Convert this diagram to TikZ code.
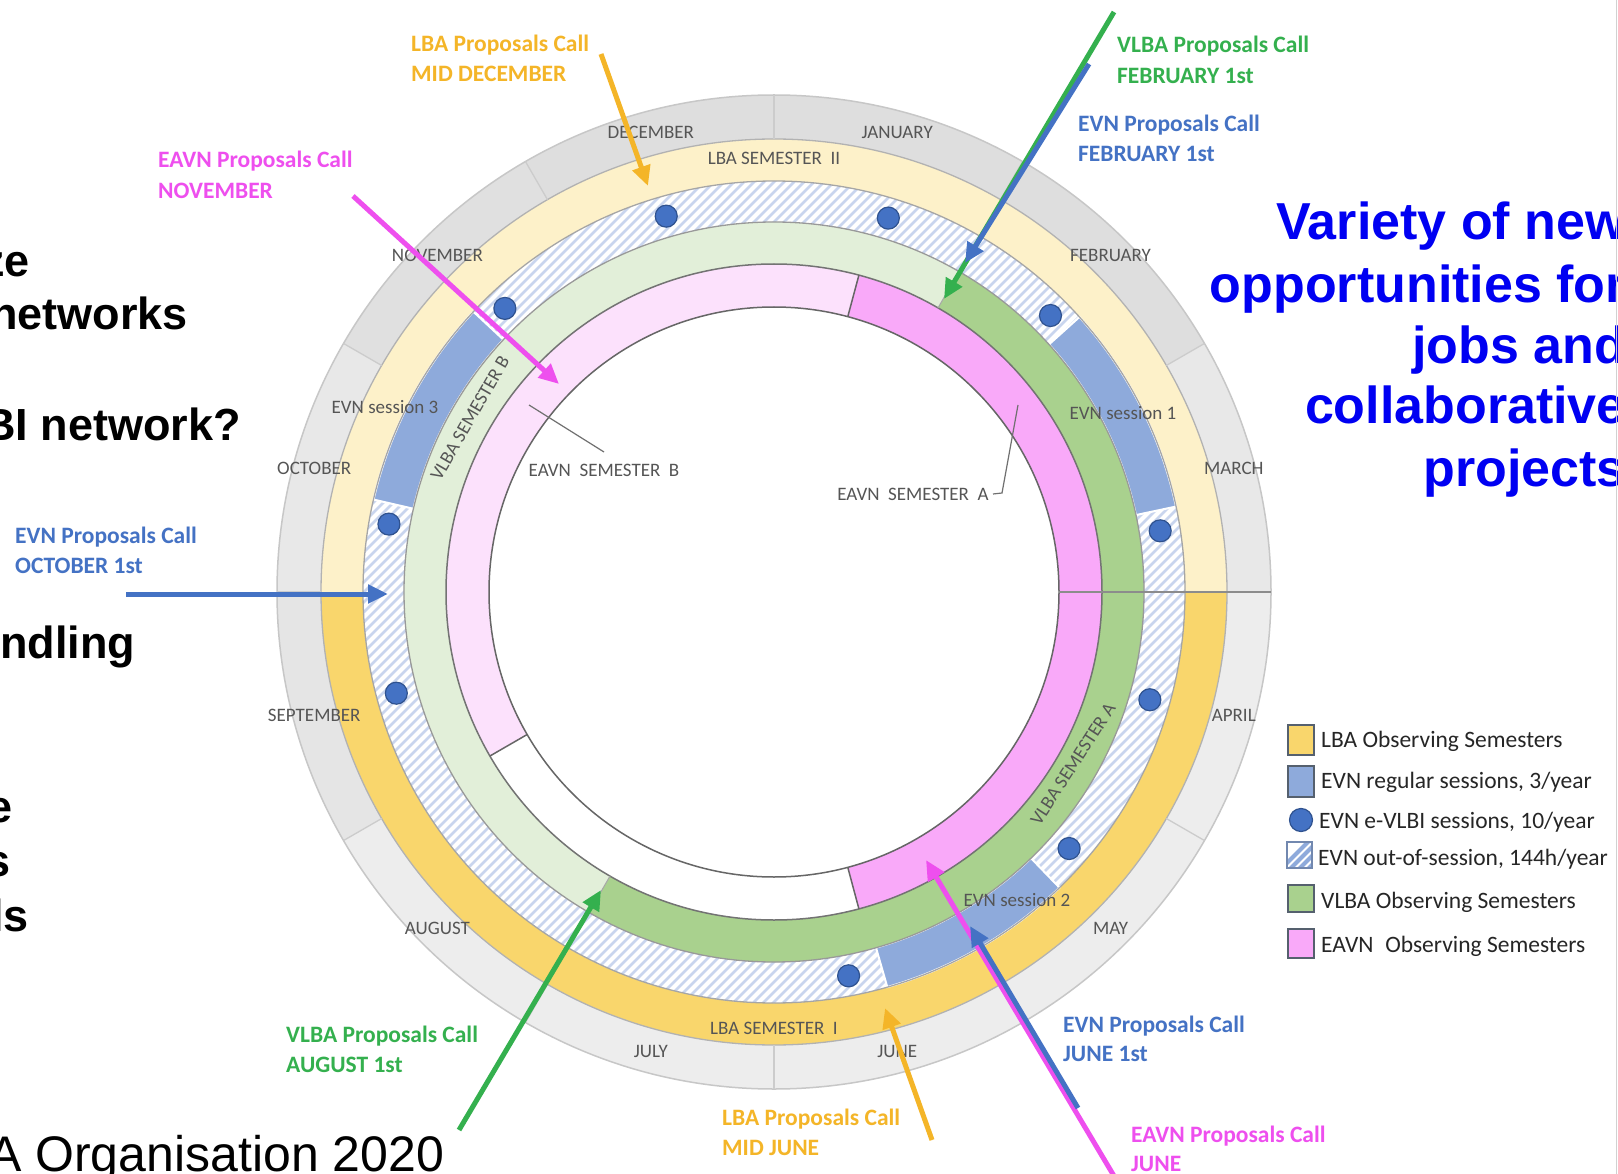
\documentclass[tikz,border=0pt]{standalone}
\usepackage{fontspec}
\setmainfont{Carlito}
\newfontfamily\libsans{Liberation Sans}
\usetikzlibrary{arrows.meta}
\definecolor{lbaI}{HTML}{F9D66C}
\definecolor{lbaII}{HTML}{FDF1C9}
\definecolor{evnS}{HTML}{8EAADB}
\definecolor{dotc}{HTML}{4472C4}
\definecolor{dotd}{HTML}{2F528F}
\definecolor{hatchc}{HTML}{C9D5EE}
\definecolor{vlbaA}{HTML}{A9D18E}
\definecolor{vlbaB}{HTML}{E2EFD9}
\definecolor{eavnA}{HTML}{F9A9F9}
\definecolor{eavnB}{HTML}{FCE1FC}
\definecolor{lbaT}{HTML}{F4B528}
\definecolor{vlbaT}{HTML}{34B04E}
\definecolor{evnT}{HTML}{4472C4}
\definecolor{eavnT}{HTML}{EE4FEE}
\definecolor{labgray}{HTML}{555555}
\definecolor{leadc}{HTML}{707070}
\definecolor{legtext}{HTML}{262626}
\definecolor{legedge}{HTML}{55606E}
\definecolor{bigblue}{HTML}{0000F2}
\newcommand\annsec[4]{({(#3)-90}:#2) arc[start angle={(#3)-90},end angle={(#4)-90},radius=#2] -- ({(#4)-90}:#1) arc[start angle={(#4)-90},end angle={(#3)-90},radius=#1] -- cycle}
\begin{document}
\begin{tikzpicture}[x=1pt,y=-1pt,
  month/.style={font=\fontsize{19}{22}\selectfont,text=labgray,inner sep=0pt},
  ringlab/.style={font=\fontsize{19}{22}\selectfont,text=labgray,inner sep=0pt},
  plab/.style={font=\bfseries\fontsize{23.5}{28}\selectfont,anchor=base west,inner sep=0pt},
  arr/.style={line width=5pt,-{Triangle[length=20pt,width=18pt]}},
  leg/.style={font=\fontsize{23.5}{28}\selectfont,text=legtext,anchor=base west,inner sep=0pt},
  legbox/.style={draw=legedge,line width=1.5pt},
  bigk/.style={font=\libsans\bfseries\fontsize{45}{54}\selectfont,anchor=base west,inner sep=0pt},
  bigr/.style={font=\libsans\fontsize{50}{58}\selectfont,anchor=base west,inner sep=0pt},
  bigb/.style={font=\libsans\bfseries\fontsize{52}{62}\selectfont,text=bigblue,anchor=base east,inner sep=0pt},
  leader/.style={draw=leadc,line width=1.2pt}]
\useasboundingbox (0,0) rectangle (1618,1174);
\clip (0,0) rectangle (1618,1174);
\fill[white] (0,0) rectangle (1618,1174);

\begin{scope}[shift={(774,592)}]
  % month ring
  \foreach \k/\g in {0/13,1/13,2/9,3/7,4/7,5/7,6/7,7/7,8/10,9/9,10/12,11/13}
    \fill[black!\g] \annsec{453}{497}{\k*30}{\k*30+30};
  % LBA ring
  \fill[lbaI] \annsec{411}{453}{90}{270};
  \fill[lbaII] \annsec{411}{453}{270}{450};
  % EVN hatched ring
  \begin{scope}[even odd rule]
    \clip (0,0) circle[radius=411] (0,0) circle[radius=370];
    \fill[white] (-420,-420) rectangle (420,420);
    \foreach \c in {-840,-830,...,840}
      \draw[hatchc,line width=2.8pt] (\c-420,420) -- (\c+420,-420);
  \end{scope}
  \foreach \a/\b in {48/78,136/164,283/313}
    \filldraw[fill=evnS,draw=white,line width=2pt] \annsec{370}{411}{\a}{\b};
  \foreach \t in {344,17,45,81,106,131,169,255,280,316.5}
    \filldraw[fill=dotc,draw=dotd,line width=1.2pt] ({\t-90}:391) circle[radius=11];
  % VLBA ring
  \fill[vlbaA] \annsec{328}{370}{30}{210};
  \fill[vlbaB] \annsec{328}{370}{210}{390};
  % EAVN ring
  \fill[eavnA] \annsec{285}{328}{15}{165};
  \fill[eavnB] \annsec{285}{328}{240}{375};
  % outlines
  \draw[line width=1.5pt,draw=black!22] (0,0) circle[radius=497];
  \draw[line width=1.3pt,draw=black!30] (0,0) circle[radius=453];
  \draw[line width=1.3pt,draw=black!35] (0,0) circle[radius=411];
  \draw[line width=1.3pt,draw=black!40] (0,0) circle[radius=370];
  \draw[line width=1.5pt,draw=black!55] (0,0) circle[radius=328];
  \draw[line width=1.5pt,draw=black!60] (0,0) circle[radius=285];
  \foreach \k in {0,...,11}
    \draw[line width=1.3pt,draw=black!20] ({\k*30-90}:453) -- ({\k*30-90}:497);
  \draw[line width=1.5pt,draw=black!45] (0:285) -- (0:497);
  \foreach \t in {15,165,240}
    \draw[line width=1.5pt,draw=black!60] ({\t-90}:285) -- ({\t-90}:328);
  \foreach \t in {30,210}
    \draw[line width=1pt,draw=black!35] ({\t-90}:328) -- ({\t-90}:370);
  % month labels
  \foreach \m [count=\i] in {JANUARY,FEBRUARY,MARCH,APRIL,MAY,JUNE,JULY,AUGUST,SEPTEMBER,OCTOBER,NOVEMBER,DECEMBER}
    \node[month] (m\i) at ({\i*30-15-90}:476) {\m};
\end{scope}

% ring labels
\node[ringlab] (lba2) at (774,158) {LBA SEMESTER\ \ II};
\node[ringlab] (lba1) at (774,1028) {LBA SEMESTER\ \ I};
\node[ringlab] (evn3) at (385,407) {EVN session 3};
\node[ringlab] (evn1) at (1123,413) {EVN session 1};
\node[ringlab] (evn2) at (1017,900) {EVN session 2};
\node[ringlab,rotate=60] (vlbab) at (470,418) {VLBA SEMESTER B};
\node[ringlab,rotate=57] (vlbaa) at (1073,764) {VLBA SEMESTER A};
\node[ringlab] (eavnb) at (604,470) {EAVN\ \ SEMESTER\ \ B};
\node[ringlab] (eavna) at (913,494) {EAVN\ \ SEMESTER\ \ A};
\coordinate (lb1) at (529,405); \coordinate (lb2) at (604,452);
\draw[leader] (lb1) -- (lb2);
\coordinate (la1) at (1018,405); \coordinate (la2) at (1002,493); \coordinate (la3) at (993,494);
\draw[leader] (la1) -- (la2) -- (la3);

% proposal call labels
\node[plab,text=lbaT] (t1a) at (411,52) {LBA Proposals Call};
\node[plab,text=lbaT] (t1b) at (411,82) {MID DECEMBER};
\node[plab,text=vlbaT] (t2a) at (1117,53) {VLBA Proposals Call};
\node[plab,text=vlbaT] (t2b) at (1117,84) {FEBRUARY 1st};
\node[plab,text=evnT] (t3a) at (1078,132) {EVN Proposals Call};
\node[plab,text=evnT] (t3b) at (1078,162) {FEBRUARY 1st};
\node[plab,text=eavnT] (t4a) at (158,168) {EAVN Proposals Call};
\node[plab,text=eavnT] (t4b) at (158,199) {NOVEMBER};
\node[plab,text=evnT] (t5a) at (15,543) {EVN Proposals Call};
\node[plab,text=evnT] (t5b) at (15,573) {OCTOBER 1st};
\node[plab,text=vlbaT] (t6a) at (286,1042) {VLBA Proposals Call};
\node[plab,text=vlbaT] (t6b) at (286,1072) {AUGUST 1st};
\node[plab,text=lbaT] (t7a) at (722,1125) {LBA Proposals Call};
\node[plab,text=lbaT] (t7b) at (722,1155) {MID JUNE};
\node[plab,text=evnT] (t8a) at (1063,1032) {EVN Proposals Call};
\node[plab,text=evnT] (t8b) at (1063,1061) {JUNE 1st};
\node[plab,text=eavnT] (t9a) at (1131,1142) {EAVN Proposals Call};
\node[plab,text=eavnT] (t9b) at (1131,1171) {JUNE};

% arrows
\coordinate (a1s) at (601,54);   \coordinate (a1e) at (648,186);
\coordinate (a2s) at (1114,12);  \coordinate (a2e) at (944,299);
\coordinate (a3s) at (1089,64);  \coordinate (a3e) at (965,263);
\coordinate (a4s) at (353,196);  \coordinate (a4e) at (559,384);
\coordinate (a5s) at (126,594);  \coordinate (a5e) at (388,594);
\coordinate (a6s) at (459,1130); \coordinate (a6e) at (601,890);
\coordinate (a7s) at (932,1140); \coordinate (a7e) at (885,1008);
\coordinate (a8s) at (1078,1108); \coordinate (a8e) at (970,926);
\coordinate (a9s) at (1114,1176); \coordinate (a9e) at (926,860);
\draw[arr,draw=lbaT,fill=lbaT] (a1s) -- (a1e);
\draw[arr,draw=vlbaT,fill=vlbaT] (a2s) -- (a2e);
\draw[arr,draw=evnT,fill=evnT] (a3s) -- (a3e);
\draw[arr,draw=eavnT,fill=eavnT] (a4s) -- (a4e);
\draw[arr,draw=evnT,fill=evnT] (a5s) -- (a5e);
\draw[arr,draw=vlbaT,fill=vlbaT] (a6s) -- (a6e);
\draw[arr,draw=lbaT,fill=lbaT] (a7s) -- (a7e);
\draw[arr,draw=eavnT,fill=eavnT] (a9s) -- (a9e);
\draw[arr,draw=evnT,fill=evnT] (a8s) -- (a8e);

% legend
\filldraw[legbox,fill=lbaI] (1288,725) rectangle (1314,755);
\node[leg] (l1) at (1321,747) {LBA Observing Semesters};
\filldraw[legbox,fill=evnS] (1288,766) rectangle (1314,797);
\node[leg] (l2) at (1321,788) {EVN regular sessions, 3/year};
\filldraw[fill=dotc,draw=dotd,line width=1.2pt] (1301,820) circle[radius=11.5];
\node[leg] (l3) at (1319,828) {EVN e-VLBI sessions, 10/year};
\begin{scope}
  \clip (1287,842) rectangle (1312,868);
  \fill[white] (1287,842) rectangle (1312,868);
  \foreach \c in {1275,1284,...,1330}
    \draw[evnS,line width=4pt] (\c,875) -- (\c+35,840);
\end{scope}
\draw[draw=evnS!80!black,line width=1.5pt] (1287,842) rectangle (1312,868);
\node[leg] (l4) at (1318,865) {EVN out-of-session, 144h/year};
\filldraw[legbox,fill=vlbaA] (1288,885) rectangle (1314,912);
\node[leg] (l5) at (1321,908) {VLBA Observing Semesters};
\filldraw[legbox,fill=eavnA] (1288,929) rectangle (1314,958);
\node[leg] (l6) at (1321,952) {EAVN\enspace Observing Semesters};

% slide text
\node[bigk] (k1) at (-18,277) {ze};
\node[bigk] (k2) at (-10,330) {networks};
\node[bigk] (k3) at (-17,440) {BI network?};
\node[bigk] (k4) at (0,658) {ndling};
\node[bigk] (k5) at (-13,822) {e};
\node[bigk] (k6) at (-15,876) {s};
\node[bigk] (k7) at (-9,931) {ls};
\node[bigr] (k8) at (-12,1171) {A Organisation 2020};

\node[bigb] (b1) at (1626,240) {Variety of new};
\node[bigb] (b2) at (1626,303) {opportunities for};
\node[bigb] (b3) at (1626,363) {jobs and};
\node[bigb] (b4) at (1626,424) {collaborative};
\node[bigb] (b5) at (1626,486) {projects};

\draw[black!18,line width=1pt] (1616.5,0) -- (1616.5,1174);
\end{tikzpicture}
\end{document}
